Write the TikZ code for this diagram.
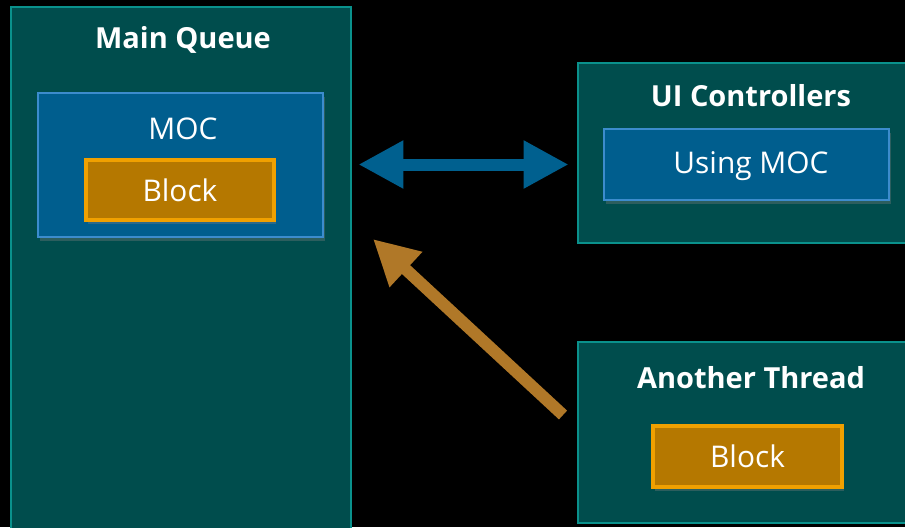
\documentclass[tikz,border=0pt]{standalone}
\usepackage{fontspec}
\setmainfont{Open Sans}
\usetikzlibrary{arrows.meta,shadows}

\definecolor{queuefill}{RGB}{0,77,77}
\definecolor{queueline}{RGB}{10,145,140}
\definecolor{mocfill}{RGB}{0,94,142}
\definecolor{mocline}{RGB}{60,140,205}
\definecolor{blockfill}{RGB}{181,120,0}
\definecolor{blockline}{RGB}{240,160,0}
\definecolor{linkblue}{RGB}{0,96,143}
\definecolor{linkorange}{RGB}{176,120,40}

\tikzset{
  queue/.style={draw=queueline,fill=queuefill,line width=1.6pt,inner sep=0pt},
  title/.style={text=white,font=\fontsize{16.5}{20}\selectfont\bfseries},
  moc/.style={draw=mocline,fill=mocfill,line width=1.4pt,inner sep=0pt,
    drop shadow={shadow xshift=1pt,shadow yshift=-2pt,opacity=.35}},
  blockbox/.style={draw=blockline,fill=blockfill,line width=1.9pt,inner sep=0pt,
    text=white,font=\fontsize{17}{20}\selectfont,
    drop shadow={shadow xshift=1pt,shadow yshift=-2pt,opacity=.35}},
  plain/.style={text=white,font=\fontsize{17}{20}\selectfont}
}

\begin{document}
\begin{tikzpicture}[x=0.02cm,y=-0.02cm]
\useasboundingbox (0,0) rectangle (905,527);
\fill[black] (0,0) rectangle (905,527);
\clip (0,0) rectangle (905,527);

% main queue
\node[queue,minimum width=6.8cm,minimum height=10.76cm] (main) at (181,276) {};
\node[title] (mainTitle) at (183,40) {Main Queue};
\node[moc,minimum width=5.7cm,minimum height=2.88cm] (moc) at (180.5,165) {};
\node[plain] (mocText) at (183,129) {MOC};
\node[blockbox,minimum width=3.76cm,minimum height=1.2cm] (mocBlock) at (180,190) {Block};

% ui controllers
\node[queue,minimum width=6.74cm,minimum height=3.6cm] (ui) at (746.5,153) {};
\node[title] (uiTitle) at (751,96) {UI Controllers};
\node[moc,plain,minimum width=5.7cm,minimum height=1.42cm] (using) at (746.5,164.5) {};
\node[plain] (usingText) at (751,166) {Using MOC};

% another thread
\node[queue,minimum width=6.74cm,minimum height=3.62cm] (thread) at (746.5,432.5) {};
\node[title] (threadTitle) at (751,378) {Another Thread};
\node[blockbox,minimum width=3.78cm,minimum height=1.22cm] (threadBlock) at (747.5,456.5) {Block};

% arrows
\draw[linkblue,line width=0.24cm,{Triangle[length=0.9cm,width=0.9cm]}-{Triangle[length=0.9cm,width=0.9cm]},
  shorten <=0.12cm,shorten >=0.16cm] (main.east |- using.west) -- (ui.west |- using.west);

\coordinate (tail) at (563,415);
\coordinate (tip) at (373,239);
\draw[linkorange,line width=0.24cm,-{Triangle[length=0.9cm,width=0.9cm]}] (tail) -- (tip);
\end{tikzpicture}
\end{document}
